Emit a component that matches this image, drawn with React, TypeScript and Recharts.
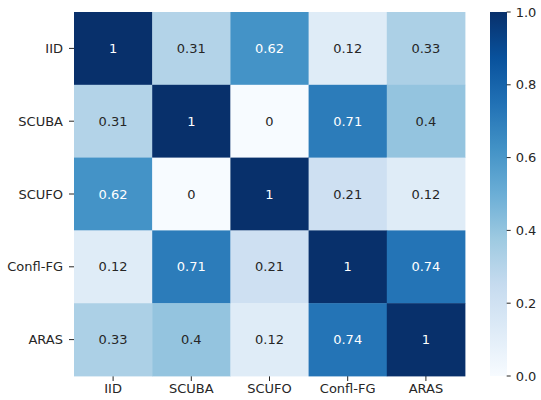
import React from 'react';
import { ScatterChart, Scatter, XAxis, YAxis, BarChart, Bar } from 'recharts';

const categories = ['IID', 'SCUBA', 'SCUFO', 'Confl-FG', 'ARAS'];
const rowIID = [1, 0.31, 0.62, 0.12, 0.33];
const rowSCUBA = [0.31, 1, 0, 0.71, 0.4];
const rowSCUFO = [0.62, 0, 1, 0.21, 0.12];
const rowConfl = [0.12, 0.71, 0.21, 1, 0.74];
const rowARAS = [0.33, 0.4, 0.12, 0.74, 1];
const matrix = [rowIID, rowSCUBA, rowSCUFO, rowConfl, rowARAS];
const colorbarTicks = [0, 0.2, 0.4, 0.6, 0.8, 1.0];

const BLUES = ['#f7fbff', '#deebf7', '#c6dbef', '#9ecae1', '#6baed6', '#4292c6', '#2171b5', '#08519c', '#08306b'];

function hexToRgb(h: string) {
  return [parseInt(h.slice(1, 3), 16), parseInt(h.slice(3, 5), 16), parseInt(h.slice(5, 7), 16)];
}
function blues(v: number): number[] {
  const t = Math.max(0, Math.min(1, v)) * (BLUES.length - 1);
  const i = Math.min(BLUES.length - 2, Math.floor(t));
  const f = t - i;
  const a = hexToRgb(BLUES[i]);
  const b = hexToRgb(BLUES[i + 1]);
  return a.map((c, k) => c + (b[k] - c) * f);
}
function rgbStr(c: number[]) {
  return `rgb(${Math.round(c[0])},${Math.round(c[1])},${Math.round(c[2])})`;
}
function luminance(c: number[]) {
  const lin = c.map((x) => {
    const s = x / 255;
    return s <= 0.03928 ? s / 12.92 : Math.pow((s + 0.055) / 1.055, 2.4);
  });
  return 0.2126 * lin[0] + 0.7152 * lin[1] + 0.0722 * lin[2];
}

const cells = matrix.flatMap((row, r) =>
  row.map((v, c) => ({ x: c + 0.5, y: r + 0.5, value: v }))
);

const W = 541;
const H = 400;
const M = { top: 12, right: 76, bottom: 0, left: 0 };
const YW = 74;
const XH = 24;
const PLOT_W = W - M.left - M.right - YW;
const PLOT_H = H - M.top - M.bottom - XH;
const CW = PLOT_W / categories.length;
const CH = PLOT_H / categories.length;

const FONT = 'DejaVu Sans, sans-serif';
const TEXT = '#262626';

const CellShape = (props: any) => {
  const { cx, cy, payload } = props;
  if (cx == null || cy == null) return null;
  const col = blues(payload.value);
  const txt = luminance(col) > 0.408 ? TEXT : '#ffffff';
  return (
    <g>
      <rect x={cx - CW / 2} y={cy - CH / 2} width={CW + 0.4} height={CH + 0.4} fill={rgbStr(col)} />
      <text x={cx} y={cy} textAnchor="middle" dominantBaseline="central" fill={txt} fontSize={13} fontFamily={FONT}>
        {String(payload.value)}
      </text>
    </g>
  );
};

const gradStops = BLUES.map((c, i) => ({ off: 1 - i / (BLUES.length - 1), c }));

export default function App() {
  return (
    <div style={{ position: 'absolute', left: 0, top: 0, width: W, height: H, background: '#fff' }}>
      <ScatterChart width={W} height={H} margin={M}>
        <XAxis
          type="number"
          dataKey="x"
          domain={[0, 5]}
          ticks={[0.5, 1.5, 2.5, 3.5, 4.5]}
          tickFormatter={(v: number) => categories[Math.floor(v)]}
          axisLine={false}
          tickSize={5}
          tickMargin={3}
          height={XH}
          interval={0}
          tickLine={{ stroke: TEXT }}
          tick={{ fill: TEXT, fontSize: 13, fontFamily: FONT }}
        />
        <YAxis
          type="number"
          dataKey="y"
          domain={[0, 5]}
          reversed
          ticks={[0.5, 1.5, 2.5, 3.5, 4.5]}
          tickFormatter={(v: number) => categories[Math.floor(v)]}
          axisLine={false}
          tickSize={5}
          tickMargin={6}
          width={YW}
          interval={0}
          tickLine={{ stroke: TEXT }}
          tick={{ fill: TEXT, fontSize: 13, fontFamily: FONT }}
        />
        <Scatter data={cells} shape={<CellShape />} isAnimationActive={false} />
      </ScatterChart>
      <div style={{ position: 'absolute', left: 478, top: 0 }}>
        <BarChart
          width={63}
          height={H}
          data={[{ k: 'cb', v: 1 }]}
          margin={{ top: 12, right: 0, bottom: 24, left: 12 }}
          barCategoryGap={0}
        >
          <defs>
            <linearGradient id="cbGrad" x1="0" y1="0" x2="0" y2="1">
              {gradStops.map((s, i) => (
                <stop key={i} offset={`${(1 - s.off) * 100}%`} stopColor={BLUES[BLUES.length - 1 - i]} />
              ))}
            </linearGradient>
          </defs>
          <XAxis dataKey="k" hide />
          <YAxis
            orientation="right"
            domain={[0, 1]}
            ticks={colorbarTicks}
            tickFormatter={(v: number) => v.toFixed(1)}
            axisLine={false}
            tickSize={4}
            tickMargin={5}
            width={34.3}
            interval={0}
            tickLine={{ stroke: TEXT }}
            tick={{ fill: TEXT, fontSize: 13, fontFamily: FONT, textAnchor: 'start' }}
          />
          <Bar dataKey="v" fill="url(#cbGrad)" isAnimationActive={false} />
        </BarChart>
      </div>
    </div>
  );
}
